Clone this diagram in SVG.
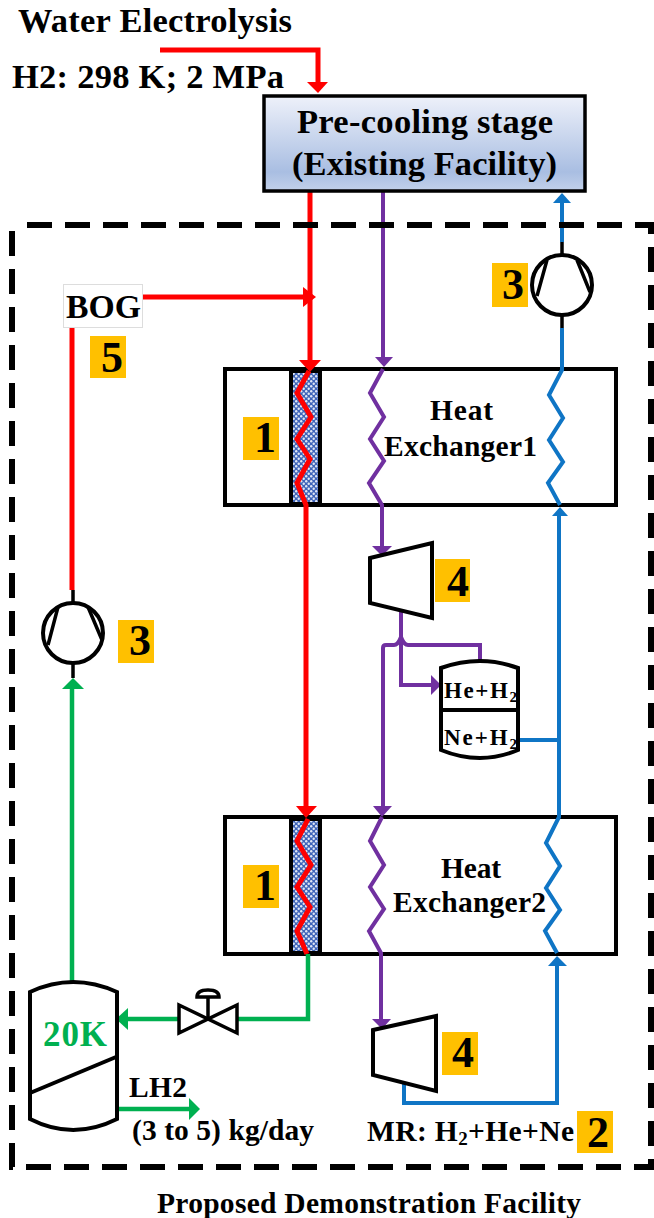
<svg xmlns="http://www.w3.org/2000/svg" width="654" height="1218" viewBox="0 0 654 1218">
<style>
text{font-family:"Liberation Serif","Times New Roman",serif;font-weight:bold;fill:#000}
.t{font-size:34.500px}.h{font-size:29.500px}.s{font-size:23px}.n{font-size:44px;text-anchor:middle}
.b{fill:#fff;stroke:#000;stroke-width:4}
.k{fill:none;stroke:#000;stroke-width:3.5}
.w{fill:none;stroke-linejoin:miter}
.r{stroke:#f00;stroke-width:5}.p{stroke:#7030a0;stroke-width:4}.u{stroke:#0f75c5;stroke-width:4}.g{stroke:#00b050;stroke-width:4.500}
.o{fill:#ffc000}
</style>
<defs>
<linearGradient id="lg" x1="0" y1="0" x2="0" y2="1"><stop offset="0" stop-color="#eef1fa"/><stop offset=".8" stop-color="#a9bee2"/><stop offset="1" stop-color="#c3d1ea"/></linearGradient>
<pattern id="hatch" width="5" height="5" patternUnits="userSpaceOnUse"><rect width="5" height="5" fill="#3f64b8"/><circle cx="1.200" cy="1.200" r="1.200" fill="#dfe6f5"/><circle cx="3.700" cy="3.700" r="1.200" fill="#dfe6f5"/></pattern>
</defs>
<g id="hx1"><rect class="b" x="225" y="369" width="391" height="136"/><rect x="291" y="371" width="29" height="133" fill="url(#hatch)" stroke="#000" stroke-width="4"/></g>
<g id="hx2"><rect class="b" x="225" y="817" width="391" height="137"/><rect x="291" y="819" width="29" height="134" fill="url(#hatch)" stroke="#000" stroke-width="4"/></g>
<g id="connectors">
<path class="w r" d="M160 50H318V84M310 192V362M143 297H304M72 327V590"/>
<path class="w r" d="M309 371L297 393L311 417L297 439L310 459L297 483L306 505V808"/>
<path class="w r" d="M308 819L297 841L311 865L297 887L310 907L297 931L307 954"/>
<path class="w p" d="M383 192V358M383 369L370 393L384 417L370 439L384 461L369 483L382 505V548"/>
<path class="w p" d="M401 610V685H432M383 808V648Q383 645 386 645H394Q398 645 401 637Q404 645 408 645H480V662"/>
<path class="w p" d="M382 817L370 841L384 865L370 887L384 909L369 931L381 953V1020"/>
<path class="w u" d="M562 200V242M562 328V370L549 395L563 418L549 440L563 462L548 483L560 505M559 514V817L546 843L560 866L546 888L560 910L545 931L557 953M518 740H559M404 1082V1103H557V964"/>
<path class="w g" d="M72 982V687M308 954V1019H237M178 1019H126M117 1109H190"/>
<path d="M562 242V255M562 315V328M73 590V603M73 663V678" stroke="#000" stroke-width="3.500"/>
<g fill="#f00"><path d="M307 82H328L318 93Z"/><path d="M299 360H321L310 372Z"/><path d="M296 806H317L306 818Z"/><path d="M303 287L316 297L303 307Z"/></g>
<g fill="#7030a0"><path d="M375 357H393L384 367Z"/><path d="M372 546H392L382 556Z"/><path d="M373 806H392L382 817Z"/><path d="M372 1019H391L382 1029Z"/><path d="M431 675L441 685L431 695Z"/></g>
<g fill="#0f75c5"><path d="M553 203H571L562 193Z"/><path d="M552 516H568L560 507Z"/><path d="M548 966H567L557 956Z"/></g>
<g fill="#00b050"><path d="M62 689H84L73 678Z"/><path d="M128 1008V1030L116 1019Z"/><path d="M189 1098V1120L200 1109Z"/></g>
</g>
<path id="frame" d="M27 225H651V1167H12V225" fill="none" stroke="#000" stroke-width="6" stroke-dasharray="25 13"/>
<g id="precool"><rect x="264" y="96" width="321" height="95" fill="url(#lg)" stroke="#000" stroke-width="3.500"/><text class="t" x="297" y="133" textLength="256">Pre-cooling stage</text><text class="t" x="292" y="175" textLength="265">(Existing Facility)</text></g>
<text class="t" x="18" y="32" textLength="274">Water Electrolysis</text>
<text class="t" x="12" y="88" textLength="272">H2: 298 K; 2 MPa</text>
<g id="bog"><rect x="63.500" y="284.500" width="79" height="43" fill="#fff" stroke="#ddd"/><text class="t" x="66" y="318" textLength="75" lengthAdjust="spacingAndGlyphs">BOG</text></g>
<g id="b5"><rect class="o" x="90" y="336" width="36" height="42"/><text class="n" x="112" y="372">5</text></g>
<g id="b3a"><rect class="o" x="492" y="263" width="36" height="44"/><text class="n" x="513" y="299">3</text></g>
<g id="b3b"><rect class="o" x="118" y="620" width="36" height="43"/><text class="n" x="140" y="655">3</text></g>
<g id="b1a"><rect class="o" x="243" y="417" width="36" height="43"/><text class="n" x="265" y="452">1</text></g>
<g id="b1b"><rect class="o" x="243" y="865" width="36" height="43"/><text class="n" x="265" y="900">1</text></g>
<g id="b4a"><rect class="o" x="435" y="559" width="35" height="43"/><text class="n" x="458" y="596">4</text></g>
<g id="b4b"><rect class="o" x="442" y="1032" width="36" height="43"/><text class="n" x="463" y="1067">4</text></g>
<g id="b2"><rect class="o" x="577" y="1111" width="36" height="42"/><text class="n" x="598" y="1147">2</text></g>
<g id="comp1"><circle class="b" cx="562" cy="285" r="30"/><path class="k" d="M547 260L537 296M577 260L590 292"/></g>
<g id="comp2"><circle class="b" cx="73" cy="633" r="30"/><path class="k" d="M58 607L48 645M88 607L102 640"/></g>
<g id="hx1-label"><text class="h" x="430" y="420" textLength="63">Heat</text><text class="h" x="384" y="456" textLength="153">Exchanger1</text></g>
<g id="hx2-label"><text class="h" x="441" y="878" textLength="60">Heat</text><text class="h" x="393" y="912" textLength="153">Exchanger2</text></g>
<g id="turb1"><path class="b" d="M370 558L432 543V618L370 603Z"/></g>
<g id="turb2"><path class="b" d="M373 1030L436 1016V1091L373 1075Z"/></g>
<g id="sep"><path class="b" d="M441 668Q480 654 518 668V750Q480 766 441 750Z"/><path d="M441 710H518" stroke="#000" stroke-width="4"/><text class="s" x="444" y="698" textLength="73">He+H<tspan font-size="15" dy="4">2</tspan></text><text class="s" x="444" y="745" textLength="73">Ne+H<tspan font-size="15" dy="4">2</tspan></text></g>
<g id="tank"><path class="b" d="M30 992Q73 972 117 992V1119Q73 1141 30 1119Z"/><path d="M30 1093L116 1057" stroke="#000" stroke-width="4"/><text x="43" y="1046" font-size="35" textLength="64" style="fill:#00b050">20K</text></g>
<g id="valve"><path class="k" d="M179 1005L237 1033V1005L179 1033Z"/><path class="k" d="M208 1019V998"/><path class="k" d="M197 997Q197 990 208 990Q219 990 219 997Z" stroke-width="3"/></g>
<text class="h" x="129" y="1097" textLength="58">LH2</text>
<text class="h" x="132" y="1140" textLength="182">(3 to 5) kg/day</text>
<text class="h" x="367" y="1141" textLength="207">MR: H<tspan font-size="19" dy="4">2</tspan><tspan dy="-4">+He+Ne</tspan></text>
<text class="h" x="157" y="1213" textLength="424">Proposed Demonstration Facility</text>
</svg>
